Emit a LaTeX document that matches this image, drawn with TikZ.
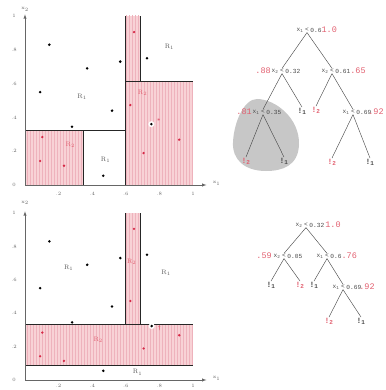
\documentclass[tikz,border=0pt]{standalone}
\usepackage{fontspec}
\usepackage{xcolor}
\usepackage{tikz}
\usetikzlibrary{positioning, patterns}
\newfontfamily\treefont{Liberation Mono}
\definecolor{regionpink}{RGB}{248,210,214}
\definecolor{hatchpink}{RGB}{238,178,188}
\definecolor{pinktext}{RGB}{226,96,112}
\definecolor{dotred}{RGB}{214,40,70}
% sample points, shared by both plots
\newcommand{\blackpts}{0.145/0.83, 0.09/0.55, 0.37/0.69, 0.567/0.73, 0.726/0.75,
  0.518/0.44, 0.28/0.345, 0.466/0.055}
\newcommand{\redpts}{0.649/0.905, 0.627/0.473, 0.918/0.268, 0.706/0.189,
  0.103/0.284, 0.09/0.142, 0.232/0.114}

\begin{document}
\begin{tikzpicture}[x=1pt, y=-1pt,
  region/.style={fill=regionpink, postaction={pattern=vertical lines, pattern color=hatchpink}},
  bound/.style={draw=black!85, line width=0.9pt},
  axis/.style={draw=black!60, line width=0.5pt},
  tick/.style={font=\fontsize{5}{6}\selectfont, text=black!60, inner sep=0pt},
  reg/.style={font=\fontsize{6.5}{7}\selectfont, text=black!65, inner sep=0pt},
  regr/.style={reg, text=pinktext},
  op/.style={font=\treefont\fontsize{6.2}{7}\selectfont, text=black!70, inner sep=0.6pt},
  imp/.style={font=\treefont\fontsize{8.5}{9}\selectfont, text=pinktext, inner sep=0pt},
  leaf/.style={font=\treefont\bfseries\fontsize{8}{9}\selectfont, text=black!70, inner sep=0.5pt},
  leafr/.style={leaf, text=pinktext},
  branch/.style={draw=black!70, line width=0.45pt},
  every node/.style={font=\fontsize{6}{7}\selectfont}
]
  \useasboundingbox (0,0) rectangle (385,390);
  \clip (0,0) rectangle (385,390);

  % upper plot: partition of the original data
  \begin{scope}[shift={(25pt,-185pt)}, x=168pt, y=169pt]
    \fill[region] (0,0) rectangle (.35,.32);
    \fill[region] (.6,0) rectangle (1,.61);
    \fill[region] (.6,.61) rectangle (.69,1);
    \draw[bound] (0,.32) -- (.6,.32);
    \draw[bound] (.35,0) -- (.35,.32);
    \draw[bound] (.6,0) -- (.6,1);
    \draw[bound] (.6,.61) -- (1,.61);
    \draw[bound] (.69,.61) -- (.69,1);
    \draw[axis, -latex] (0,0) -- (1.08,0);
    \draw[axis, -latex] (0,0) -- (0,1.01);
    \node[tick] (ax1) at (1.14,0.01) {x$_1$};
    \node[tick] (ay1) at (0,1.04) {x$_2$};
    \foreach \t/\l in {0/0, .2/.2, .4/.4, .6/.6, .8/.8, 1/1}
      \node[tick] (ya\l) at (-0.065,\t) {\l};
    \foreach \t/\l in {.2/.2, .4/.4, .6/.6, .8/.8, 1/1}
      \node[tick] (xa\l) at (\t,-0.05) {\l};
    \node[reg] (ra1) at (0.34,0.52) {R$_1$};
    \node[reg] (ra2) at (0.86,0.82) {R$_1$};
    \node[reg] (ra3) at (0.48,0.15) {R$_1$};
    \node[regr] (ra4) at (0.27,0.24) {R$_2$};
    \node[regr] (ra5) at (0.70,0.545) {R$_2$};
    \foreach \px/\py in \blackpts
      \fill (\px,\py) circle (1.4pt);
    \foreach \px/\py in \redpts
      \fill[dotred] (\px,\py) circle (1.3pt);
    \fill[white] (0.752,0.36) circle (3pt);
    \fill (0.752,0.36) circle (1.4pt);
    \node[text=dotred, inner sep=0pt] (sa) at (0.796,0.386) {$\ast$};
  \end{scope}

  % lower plot: partition after moving one point
  \begin{scope}[shift={(25pt,-380pt)}, x=168pt, y=167pt]
    \fill[region] (0,.085) rectangle (1,.335);
    \fill[region] (.6,.335) rectangle (.69,1);
    \draw[bound] (0,.335) -- (1,.335);
    \draw[bound] (0,.085) -- (1,.085);
    \draw[bound] (.6,.335) -- (.6,1);
    \draw[bound] (.69,.335) -- (.69,1);
    \draw[axis, -latex] (0,0) -- (1.08,0);
    \draw[axis, -latex] (0,0) -- (0,1.01);
    \node[tick] (bx1) at (1.14,0.01) {x$_1$};
    \node[tick] (by1) at (0,1.06) {x$_2$};
    \foreach \t/\l in {0/0, .2/.2, .4/.4, .6/.6, .8/.8, 1/1}
      \node[tick] (yb\l) at (-0.065,\t) {\l};
    \foreach \t/\l in {.2/.2, .4/.4, .6/.6, .8/.8, 1/1}
      \node[tick] (xb\l) at (\t,-0.033) {\l};
    \node[reg] (rb1) at (0.26,0.67) {R$_1$};
    \node[regr] (rb2) at (0.635,0.71) {R$_2$};
    \node[reg] (rb3) at (0.84,0.64) {R$_1$};
    \node[regr] (rb4) at (0.436,0.24) {R$_2$};
    \node[reg] (rb5) at (0.67,0.046) {R$_1$};
    \foreach \px/\py in \blackpts
      \fill (\px,\py) circle (1.4pt);
    \foreach \px/\py in \redpts
      \fill[dotred] (\px,\py) circle (1.3pt);
    \fill[white] (0.754,0.323) circle (3pt);
    \fill (0.754,0.323) circle (1.4pt);
    \node[text=dotred, inner sep=0pt] (sb) at (0.80,0.31) {$\dagger$};
  \end{scope}

  % upper tree
  \fill[black!22] (257,99) .. controls (275,99) and (300,118) .. (299,145)
    .. controls (298,166) and (282,171) .. (266,171)
    .. controls (245,171) and (232,160) .. (233,142)
    .. controls (234,122) and (244,99) .. (257,99);
  \node[op] (t1) at (307,30) {<};
  \node[op, left=0pt of t1] (t1l) {x\textsubscript{1}};
  \node[op, right=0pt of t1] (t1r) {0.6};
  \node[imp, right=-1pt of t1r] (t1i) {1.0};
  \node[op] (t2) at (282,71) {<};
  \node[op, left=0pt of t2] (t2l) {x\textsubscript{2}};
  \node[op, right=0pt of t2] (t2r) {0.32};
  \node[imp, left=0pt of t2l] (t2i) {.88};
  \node[op] (t3) at (332,71) {<};
  \node[op, left=0pt of t3] (t3l) {x\textsubscript{2}};
  \node[op, right=0pt of t3] (t3r) {0.61};
  \node[imp, right=-1pt of t3r] (t3i) {.65};
  \node[op] (t4) at (263,112) {<};
  \node[op, left=0pt of t4] (t4l) {x\textsubscript{1}};
  \node[op, right=0pt of t4] (t4r) {0.35};
  \node[imp, left=0pt of t4l] (t4i) {.81};
  \node[leaf] (t5) at (302,111) {!\textsubscript{1}};
  \node[leafr] (t6) at (316,110) {!\textsubscript{2}};
  \node[op] (t7) at (353,112) {<};
  \node[op, left=0pt of t7] (t7l) {x\textsubscript{1}};
  \node[op, right=0pt of t7] (t7r) {0.69};
  \node[imp, right=-4pt of t7r] (t7i) {.92};
  \node[leafr] (t8) at (246,161) {!\textsubscript{2}};
  \node[leaf] (t9) at (284,161) {!\textsubscript{1}};
  \node[leafr] (t10) at (332,162) {!\textsubscript{2}};
  \node[leaf] (t11) at (370,162) {!\textsubscript{1}};
  \draw[branch] (t1.south) -- (t2.north);
  \draw[branch] (t1.south) -- (t3.north);
  \draw[branch] (t2.south) -- (t4.north);
  \draw[branch] (t2.south) -- (t5.north);
  \draw[branch] (t3.south) -- (t6.north);
  \draw[branch] (t3.south) -- (t7.north);
  \draw[branch] (t4.south) -- (t8.north);
  \draw[branch] (t4.south) -- (t9.north);
  \draw[branch] (t7.south) -- (t10.north);
  \draw[branch] (t7.south) -- (t11.north);

  % lower tree
  \node[op] (s1) at (306,225) {<};
  \node[op, left=0pt of s1] (s1l) {x\textsubscript{2}};
  \node[op, right=0pt of s1] (s1r) {0.32};
  \node[imp, right=0pt of s1r] (s1i) {1.0};
  \node[op] (s2) at (284,256) {<};
  \node[op, left=0pt of s2] (s2l) {x\textsubscript{2}};
  \node[op, right=0pt of s2] (s2r) {0.05};
  \node[imp, left=1pt of s2l] (s2i) {.59};
  \node[op] (s3) at (327,256) {<};
  \node[op, left=0pt of s3] (s3l) {x\textsubscript{1}};
  \node[op, right=0pt of s3] (s3r) {0.6};
  \node[imp, right=-1pt of s3r] (s3i) {.76};
  \node[leaf] (s4) at (271,285) {!\textsubscript{1}};
  \node[leafr] (s5) at (300,285) {!\textsubscript{2}};
  \node[leaf] (s6) at (314,285) {!\textsubscript{1}};
  \node[op] (s7) at (343,287) {<};
  \node[op, left=0pt of s7] (s7l) {x\textsubscript{1}};
  \node[op, right=0pt of s7] (s7r) {0.69};
  \node[imp, right=-3pt of s7r] (s7i) {.92};
  \node[leafr] (s8) at (329,321) {!\textsubscript{2}};
  \node[leaf] (s9) at (361,321) {!\textsubscript{1}};
  \draw[branch] (s1.south) -- (s2.north);
  \draw[branch] (s1.south) -- (s3.north);
  \draw[branch] (s2.south) -- (s4.north);
  \draw[branch] (s2.south) -- (s5.north);
  \draw[branch] (s3.south) -- (s6.north);
  \draw[branch] (s3.south) -- (s7.north);
  \draw[branch] (s7.south) -- (s8.north);
  \draw[branch] (s7.south) -- (s9.north);
\end{tikzpicture}
\end{document}
